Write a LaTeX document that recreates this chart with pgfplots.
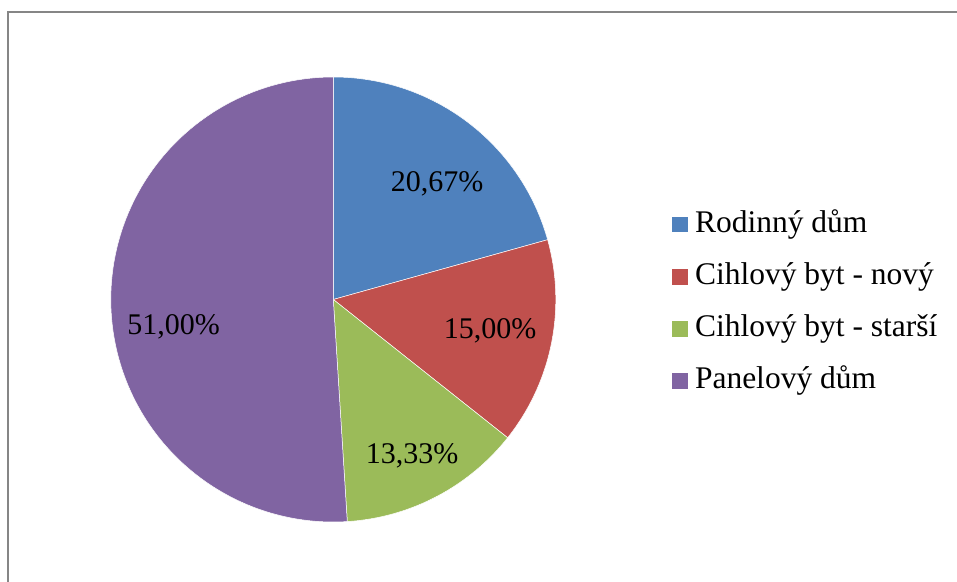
\documentclass[border=0pt]{standalone}
\usepackage{fontspec}
\setmainfont{Liberation Serif}
\usepackage{pgfplots}
\usepackage{pgfplotstable}
\pgfplotsset{compat=1.18}
\definecolor{cA}{HTML}{4F81BD}
\definecolor{cB}{HTML}{C0504D}
\definecolor{cC}{HTML}{9BBB59}
\definecolor{cD}{HTML}{8064A2}
\definecolor{frameGray}{HTML}{868686}

\pgfplotstableread[col sep=comma]{
name,value
Rodinný dům,20.67
Cihlový byt - nový,15.00
Cihlový byt - starší,13.33
Panelový dům,51.00
}\piedata

\pgfplotstablegetelem{0}{value}\of\piedata \let\vA\pgfplotsretval
\pgfplotstablegetelem{1}{value}\of\piedata \let\vB\pgfplotsretval
\pgfplotstablegetelem{2}{value}\of\piedata \let\vC\pgfplotsretval
\pgfplotstablegetelem{3}{value}\of\piedata \let\vD\pgfplotsretval
\pgfmathsetmacro{\aO}{90}
\pgfmathsetmacro{\aA}{\aO-3.6*\vA}
\pgfmathsetmacro{\aB}{\aA-3.6*\vB}
\pgfmathsetmacro{\aC}{\aB-3.6*\vC}
\pgfmathsetmacro{\aD}{\aC-3.6*\vD}

\newcommand{\pct}[1]{\pgfmathprintnumber[fixed,fixed zerofill,precision=2,use comma,assume math mode=true]{#1}\%}

\begin{document}
\begin{tikzpicture}
\useasboundingbox (0,0) rectangle (957pt,581pt);
\begin{axis}[
  at={(0,0)}, anchor=south west,
  x=1pt, y=1pt, xmin=0, xmax=957, ymin=0, ymax=581,
  hide axis, clip=false,
  legend style={at={(axis cs:672,369)}, anchor=north west, draw=none, fill=none,
    inner sep=0pt, outer sep=0pt, row sep=31.5pt,
    font=\fontsize{31.5}{37}\selectfont,
    nodes={text height=20.5pt, text depth=0pt, inner xsep=7.5pt, inner ysep=0pt, anchor=west}},
  legend cell align=left,
  legend image code/.code={\path[#1, draw=none] (0pt,-10.25pt) rectangle (15.5pt,5.25pt);},
]
\addplot[fill=cA, draw=white, line width=0.5pt, domain=\aA:\aO, samples=90, variable=\t]
  ({333.3+222.5*cos(\t)},{281.5+222.5*sin(\t)}) -- (axis cs:333.3,281.5) -- cycle;
\addlegendentry{Rodinný dům}
\addplot[fill=cB, draw=white, line width=0.5pt, domain=\aB:\aA, samples=90, variable=\t]
  ({333.3+222.5*cos(\t)},{281.5+222.5*sin(\t)}) -- (axis cs:333.3,281.5) -- cycle;
\addlegendentry{Cihlový byt - nový}
\addplot[fill=cC, draw=white, line width=0.5pt, domain=\aC:\aB, samples=90, variable=\t]
  ({333.3+222.5*cos(\t)},{281.5+222.5*sin(\t)}) -- (axis cs:333.3,281.5) -- cycle;
\addlegendentry{Cihlový byt - starší}
\addplot[fill=cD, draw=white, line width=0.5pt, domain=\aD:\aC, samples=180, variable=\t]
  ({333.3+222.5*cos(\t)},{281.5+222.5*sin(\t)}) -- (axis cs:333.3,281.5) -- cycle;
\addlegendentry{Panelový dům}

\node[anchor=base, font=\fontsize{30}{36}\selectfont] at (axis cs:437,389) {\pct{\vA}};
\node[anchor=base, font=\fontsize{30}{36}\selectfont] at (axis cs:490,243) {\pct{\vB}};
\node[anchor=base, font=\fontsize{30}{36}\selectfont] at (axis cs:412,118) {\pct{\vC}};
\node[anchor=base, font=\fontsize{30}{36}\selectfont] at (axis cs:173.5,247) {\pct{\vD}};

\draw[frameGray, line width=2pt] (axis cs:7.5,-2) -- (axis cs:7.5,568.5) -- (axis cs:960,568.5);
\end{axis}
\end{tikzpicture}
\end{document}
